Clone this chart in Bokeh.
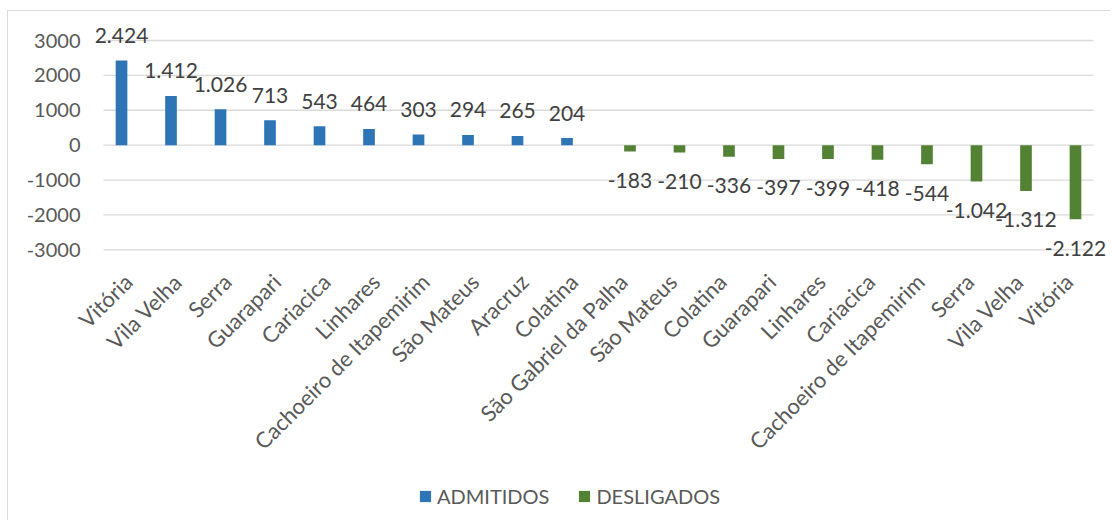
import math
from bokeh.plotting import figure
from bokeh.models import Range1d, Legend, LegendItem, ColumnDataSource, LabelSet
from bokeh.core.properties import value
from bokeh.embed import file_html
from bokeh.resources import INLINE

# ---- data ----
admitidos_cidades = ["Vitória", "Vila Velha", "Serra", "Guarapari", "Cariacica",
                     "Linhares", "Cachoeiro de Itapemirim", "São Mateus", "Aracruz", "Colatina"]
admitidos = [2424, 1412, 1026, 713, 543, 464, 303, 294, 265, 204]

desligados_cidades = ["São Gabriel da Palha", "São Mateus", "Colatina", "Guarapari", "Linhares",
                      "Cariacica", "Cachoeiro de Itapemirim", "Serra", "Vila Velha", "Vitória"]
desligados = [-183, -210, -336, -397, -399, -418, -544, -1042, -1312, -2122]

y_ticks = [-3000, -2000, -1000, 0, 1000, 2000, 3000]
series_names = ["ADMITIDOS", "DESLIGADOS"]

# ---- style / layout ----
FONT = "Lato"
BLUE = "#2E75B6"
GREEN = "#548235"
GRID = "#D9D9D9"
TXT = "#404040"
AX = "#595959"
BAR_W = 0.236
OFF = 0.136

categories = admitidos_cidades + desligados_cidades
n = len(categories)
n_a = len(admitidos)

# page-pixel geometry: value axis 3000 at y=40, -3000 at y=249.3; category area x 103..1093
OX, OY = 8, 11                      # where the figure canvas starts on the page
PXU = 209.3 / 6000.0
SLOT = 990.0 / n
FRAME_TOP, FRAME_BOT = OY, 520
FRAME_L, FRAME_R = OX, 1110
y_hi = y_ticks[-1] + (40 - FRAME_TOP) / PXU
y_lo = y_ticks[0] - (FRAME_BOT - 249.3) / PXU
x_lo = -(103 - FRAME_L) / SLOT
x_hi = n + (FRAME_R - 1093) / SLOT
x_ylab = -(103 - 80) / SLOT          # right edge of the value-axis labels


def fmt(v):
    return f"{v:,}".replace(",", ".")


src_a = ColumnDataSource(dict(
    x=[i + 0.5 - OFF for i in range(n_a)],
    y=admitidos,
    lbl=[fmt(v) for v in admitidos],
))
src_d = ColumnDataSource(dict(
    x=[n_a + i + 0.5 + OFF for i in range(len(desligados))],
    y=desligados,
    lbl=[fmt(v) for v in desligados],
))
src_c = ColumnDataSource(dict(
    x=[i + 0.5 for i in range(n)],
    y=[y_ticks[0]] * n,
    lbl=categories,
))
src_y = ColumnDataSource(dict(
    x=[x_ylab] * len(y_ticks),
    y=y_ticks,
    lbl=[str(t) for t in y_ticks],
))

p = figure(
    frame_width=FRAME_R - FRAME_L, frame_height=FRAME_BOT - FRAME_TOP,
    x_range=Range1d(x_lo, x_hi), y_range=Range1d(y_lo, y_hi),
    output_backend="svg", toolbar_location=None,
    min_border_left=0, min_border_top=0, min_border_right=0, min_border_bottom=0,
)
p.styles = {"margin-left": "7px", "margin-top": "10px",
            "border-top": "1px solid #D9D9D9", "border-left": "1px solid #D9D9D9"}
p.outline_line_color = None
p.background_fill_color = "white"
p.border_fill_color = "white"
p.xaxis.visible = False
p.yaxis.visible = False
p.grid.visible = False

# horizontal gridlines limited to the category area
p.segment(x0=[0] * len(y_ticks), x1=[n] * len(y_ticks), y0=y_ticks, y1=y_ticks,
          line_color=GRID, line_width=1.3)

r_a = p.vbar(x="x", top="y", bottom=0, width=BAR_W, source=src_a,
             fill_color=BLUE, line_color=None)
r_d = p.vbar(x="x", top="y", bottom=0, width=BAR_W, source=src_d,
             fill_color=GREEN, line_color=None)

# value-axis tick labels
p.add_layout(LabelSet(x="x", y="y", text="lbl", source=src_y,
                      text_align="right", text_baseline="middle",
                      text_font=value(FONT), text_font_size="20px", text_color=AX))

# data labels
p.add_layout(LabelSet(x="x", y="y", text="lbl", source=src_a, y_offset=25,
                      text_align="center", text_baseline="middle",
                      text_font=value(FONT), text_font_size="21px", text_color=TXT))
p.add_layout(LabelSet(x="x", y="y", text="lbl", source=src_d, y_offset=-29,
                      text_align="center", text_baseline="middle",
                      text_font=value(FONT), text_font_size="21px", text_color=TXT))

# category labels (rotated 45 degrees), hung under the lowest gridline
p.add_layout(LabelSet(x="x", y="y", text="lbl", source=src_c, y_offset=-28,
                      angle=math.pi / 4, text_align="right", text_baseline="middle",
                      text_font=value(FONT), text_font_size="22px", text_color=AX))

legend = Legend(
    items=[LegendItem(label=series_names[0], renderers=[r_a]),
           LegendItem(label=series_names[1], renderers=[r_d])],
    orientation="horizontal", location=(418 - FRAME_L, 12),
    glyph_width=14, glyph_height=14, label_standoff=5, spacing=28,
    padding=0, margin=0, border_line_color=None, background_fill_alpha=0,
    label_text_font=FONT, label_text_font_size="20px", label_text_color=AX,
)
p.add_layout(legend, "center")

open("out.html", "w").write(file_html(p, INLINE))
